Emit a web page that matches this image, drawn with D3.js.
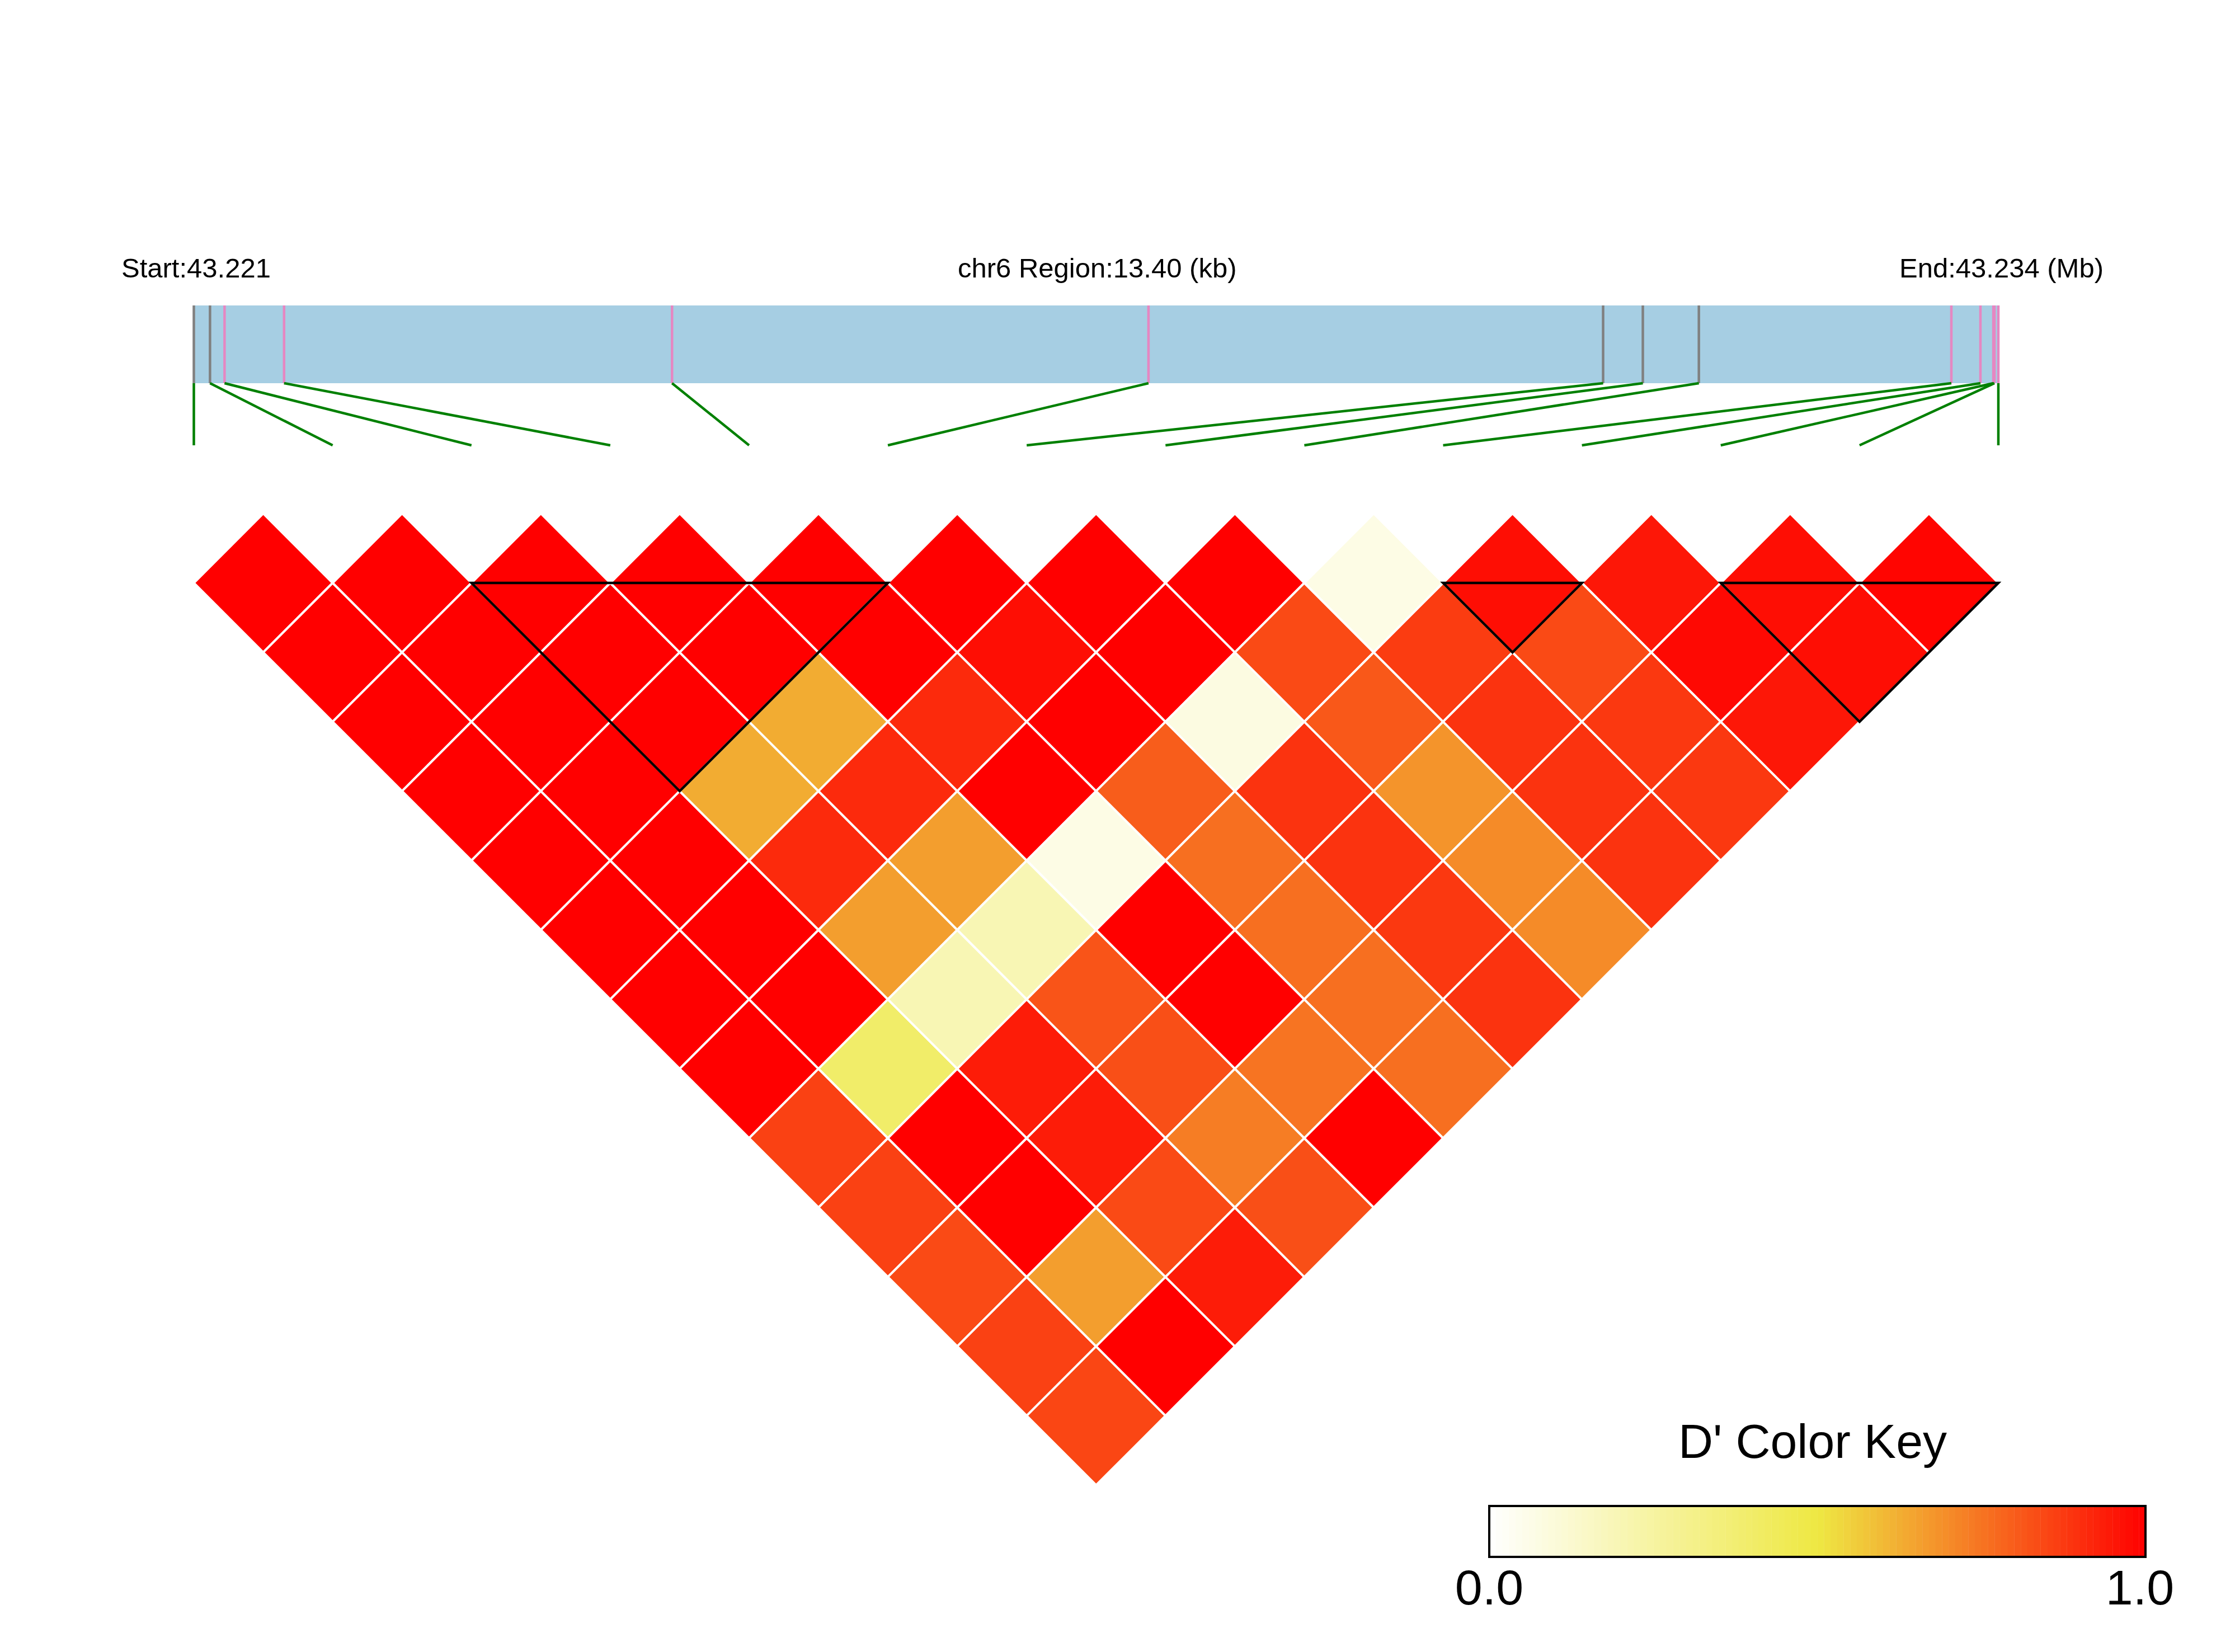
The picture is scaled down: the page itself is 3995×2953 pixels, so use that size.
<!DOCTYPE html>
<html>
<head>
<meta charset="utf-8">
<script src="https://cdn.jsdelivr.net/npm/d3@7"></script>
<style>
body { margin: 0; background: #fff; }
svg { display: block; }
text { font-family: "Liberation Sans", Arial, sans-serif; fill: #000; }
</style>
</head>
<body>
<svg width="3995" height="2953"></svg>
<script>
const WIDTH = 3995
const HEIGHT = 2953
const LEFT = 346.5
const RIGHT = 3572
const BAR_TOP = 546
const BAR_BOTTOM = 685
const LINK_BOTTOM = 796
const HEAT_TOP = 1042

// region + snps
const chrom = "chr6"
const regionStart = 43221000
const regionEnd = 43234400
const snpPos = [43221000, 43221120, 43221228, 43221670, 43224551, 43228089, 43231465,
    43231760, 43232176, 43234051, 43234267, 43234363, 43234371, 43234400]
const snpGroup = ["g", "g", "p", "p", "p", "p", "g", "g", "g", "p", "p", "p", "p", "p"]

// D' per snp i, against j = i+1 .. 13
const dprime = [
    [1, 1, 1, 1, 1, 1, 1, 1, 0.86, 0.86, 0.84, 0.86, 0.85],
    [1, 1, 1, 1, 1, 1, 1, 0.40, 1, 1, 0.66, 1],
    [1, 1, 1, 0.63, 0.91, 0.66, 0.20, 0.94, 0.94, 0.84, 0.94],
    [1, 1, 0.63, 0.91, 0.66, 0.20, 0.82, 0.83, 0.73, 0.83],
    [1, 1, 0.91, 1, 0.07, 1, 1, 0.75, 1],
    [1, 0.97, 1, 0.80, 0.76, 0.76, 0.76, 0.76],
    [1, 1, 0.08, 0.89, 0.89, 0.88, 0.89],
    [1, 0.84, 0.81, 0.68, 0.70, 0.70],
    [0.07, 0.87, 0.89, 0.89, 0.89],
    [0.97, 0.84, 0.88, 0.88],
    [0.95, 0.98, 0.95],
    [0.97, 0.97],
    [0.99]
]
const blocks = [[2, 5], [9, 10], [11, 13]]
const keyTicks = [0, 1]

const svg = d3.select("svg")
svg.append("rect")
    .attr("width", WIDTH)
    .attr("height", HEIGHT)
    .attr("fill", "#fff")

const idx = d3.scaleLinear().domain([0, snpPos.length - 1]).range([LEFT, RIGHT])
const pos = d3.scaleLinear().domain([regionStart, regionEnd]).range([LEFT, RIGHT])
const half = (idx(1) - idx(0)) / 2
const color = d3.scaleLinear()
    .domain([0, 0.5, 1])
    .range(["#ffffff", "#eee843", "#ff0000"])
const groupColor = { g: "#808080", p: "#e587c2" }

// header texts
svg.append("text")
    .attr("x", 217).attr("y", 496)
    .attr("font-size", 49)
    .text("Start:" + (regionStart / 1e6).toFixed(3))
svg.append("text")
    .attr("x", (LEFT + RIGHT) / 2 + 2).attr("y", 496)
    .attr("text-anchor", "middle")
    .attr("font-size", 49)
    .text(chrom + " Region:" + ((regionEnd - regionStart) / 1000).toFixed(2) + " (kb)")
svg.append("text")
    .attr("x", 3760).attr("y", 496)
    .attr("text-anchor", "end")
    .attr("font-size", 49)
    .text("End:" + (regionEnd / 1e6).toFixed(3) + " (Mb)")

// gene bar
svg.append("rect")
    .attr("x", pos(regionStart))
    .attr("y", BAR_TOP)
    .attr("width", pos(regionEnd) - pos(regionStart))
    .attr("height", BAR_BOTTOM - BAR_TOP)
    .attr("fill", "#a6cee3")

svg.append("g").selectAll("line")
    .data(snpPos)
    .join("line")
    .attr("x1", d => pos(d)).attr("x2", d => pos(d))
    .attr("y1", BAR_TOP).attr("y2", BAR_BOTTOM)
    .attr("stroke", (d, i) => groupColor[snpGroup[i]])
    .attr("stroke-width", 4.5)

svg.append("g").selectAll("line")
    .data(snpPos)
    .join("line")
    .attr("x1", d => pos(d)).attr("y1", BAR_BOTTOM)
    .attr("x2", (d, i) => idx(i)).attr("y2", LINK_BOTTOM)
    .attr("stroke", "#008000")
    .attr("stroke-width", 4.5)

// heatmap cells
let cells = []
dprime.forEach((row, i) => {
    row.forEach((v, k) => {
        cells.push({ i: i, j: i + k + 1, v: v })
    })
})

svg.append("g").selectAll("path")
    .data(cells)
    .join("path")
    .attr("d", d => {
        let cx = (idx(d.i) + idx(d.j)) / 2
        let cy = HEAT_TOP + (d.j - d.i - 1) * half
        return "M" + cx + "," + (cy - half) +
            "L" + (cx + half) + "," + cy +
            "L" + cx + "," + (cy + half) +
            "L" + (cx - half) + "," + cy + "Z"
    })
    .attr("fill", d => color(d.v))
    .attr("stroke", "#fff")
    .attr("stroke-width", 4)

// ld blocks
svg.append("g").selectAll("path")
    .data(blocks)
    .join("path")
    .attr("d", d => {
        let a = idx(d[0]), b = idx(d[1])
        return "M" + a + "," + HEAT_TOP + "L" + b + "," + HEAT_TOP +
            "L" + (a + b) / 2 + "," + (HEAT_TOP + (d[1] - d[0]) * half) + "Z"
    })
    .attr("fill", "none")
    .attr("stroke", "#000")
    .attr("stroke-width", 4.5)
    .attr("stroke-linejoin", "miter")

// colour key
const key = d3.scaleLinear().domain([0, 1]).range([2662, 3835])
const KEY_TOP = 2692
const KEY_H = 91
const steps = d3.range(0, 100).map(k => k / 100)

svg.append("text")
    .attr("x", 3240).attr("y", 2606)
    .attr("text-anchor", "middle")
    .attr("font-size", 86)
    .text("D' Color Key")

svg.append("g").selectAll("rect")
    .data(steps)
    .join("rect")
    .attr("x", d => key(d))
    .attr("y", KEY_TOP)
    .attr("width", key(0.01) - key(0) + 0.4)
    .attr("height", KEY_H)
    .attr("fill", d => color(d + 0.005))

svg.append("rect")
    .attr("x", key(0)).attr("y", KEY_TOP)
    .attr("width", key(1) - key(0)).attr("height", KEY_H)
    .attr("fill", "none")
    .attr("stroke", "#000")
    .attr("stroke-width", 4)

svg.append("g").selectAll("text")
    .data(keyTicks)
    .join("text")
    .attr("x", d => key(d) + (d === 0 ? 0 : -10))
    .attr("y", 2868)
    .attr("text-anchor", "middle")
    .attr("font-size", 88)
    .text(d => d3.format(".1f")(d))
</script>
</body>
</html>
